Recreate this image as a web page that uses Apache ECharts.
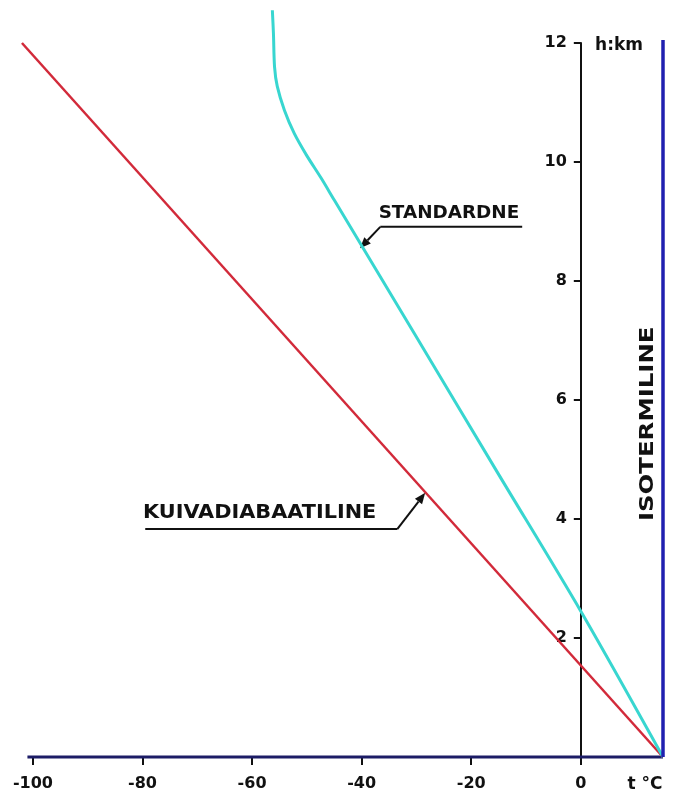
<!DOCTYPE html>
<html>
<head>
<meta charset="utf-8">
<script src="https://cdn.jsdelivr.net/npm/echarts@6/dist/echarts.min.js"></script>
<style>
html,body{margin:0;padding:0;background:#fff;}
#chart{width:684px;height:800px;}
</style>
</head>
<body>
<div id="chart"></div>
<script>
// ---- data ----
const temperatureTicks = [-100, -80, -60, -40, -20, 0];   // t, °C
const heightTicks = [2, 4, 6, 8, 10, 12];                 // h, km

// temperature axis baseline (drawn in navy in the original)
const baselineT = [-101, 15];
const baselineH = [0, 0];

// dry adiabatic line (kuivadiabaatiline)
const dryAdiabatT = [15, -102];
const dryAdiabatH = [0, 12];

// standard atmosphere (standardne)
const standardT = [15, 0, -15, -30, -45.0, -47.4, -50.1, -52.3, -54.1, -55.4, -55.9, -56.1, -56.3];
const standardH = [0, 2.45, 4.75, 7.06, 9.36, 9.73, 10.12, 10.48, 10.87, 11.27, 11.6, 12.16, 12.55];

// isotherm (isotermiline)
const isothermT = [15, 15];
const isothermH = [0, 12.05];

const labelTexts = {
  standard: 'STANDARDNE',
  dry: 'KUIVADIABAATILINE',
  iso: 'ISOTERMILINE',
  xName: 't °C',
  yName: 'h:km'
};

const zip = (a, b) => a.map((v, i) => [v, b[i]]);

const chart = echarts.init(document.getElementById('chart'), null, {renderer: 'canvas'});
const FONT = 'DejaVu Sans';
const GRID_LEFT = 11, GRID_RIGHT = 21;
const X_MIN = -104, X_MAX = 15;

chart.setOption({
  backgroundColor: '#ffffff',
  animation: false,
  grid: {left: GRID_LEFT, right: GRID_RIGHT, top: 43, bottom: 43,
         containLabel: false, outerBoundsMode: 'none'},
  xAxis: {
    type: 'value', min: X_MIN, max: X_MAX,
    splitLine: {show: false},
    axisLine: {show: false, onZero: false},
    axisTick: {show: true, customValues: temperatureTicks, length: 8, inside: false,
               lineStyle: {color: '#111', width: 2}},
    axisLabel: {customValues: temperatureTicks, margin: 19, color: '#111',
                fontFamily: FONT, fontWeight: 'bold', fontSize: 16,
                formatter: v => String(v)}
  },
  yAxis: {
    type: 'value', min: 0, max: 12,
    position: 'left',
    offset: -((684 - GRID_LEFT - GRID_RIGHT) * (0 - X_MIN) / (X_MAX - X_MIN)),
    splitLine: {show: false},
    axisLine: {onZero: false, lineStyle: {color: '#111', width: 2}},
    axisTick: {show: true, customValues: heightTicks, length: 7,
               lineStyle: {color: '#111', width: 2}},
    axisLabel: {customValues: heightTicks, margin: 14, color: '#111',
                fontFamily: FONT, fontWeight: 'bold', fontSize: 16}
  },
  series: [
    {type: 'line', name: 'baseline', data: zip(baselineT, baselineH), clip: false,
     symbol: 'none', lineStyle: {color: '#1c1c66', width: 3}, z: 2},
    {type: 'line', name: 'dry', data: zip(dryAdiabatT, dryAdiabatH), clip: false,
     symbol: 'none', lineStyle: {color: '#d22a3a', width: 2.5}, z: 3},
    {type: 'line', name: 'standard', data: zip(standardT, standardH), clip: false,
     symbol: 'none', smooth: 0.3, lineStyle: {color: '#38d6d0', width: 3}, z: 3},
    {type: 'line', name: 'iso', data: zip(isothermT, isothermH), clip: false,
     symbol: 'none', lineStyle: {color: '#2020b0', width: 3.5}, z: 4}
  ]
});

const P = (v, h) => chart.convertToPixel({gridIndex: 0}, [v, h]);

function arrow(from, to, color) {
  const dx = to[0] - from[0], dy = to[1] - from[1];
  const len = Math.hypot(dx, dy), ux = dx / len, uy = dy / len;
  const hl = 11, hw = 4.5;
  const bx = to[0] - ux * hl, by = to[1] - uy * hl;
  return [
    {type: 'line', shape: {x1: from[0], y1: from[1], x2: bx, y2: by},
     style: {stroke: color, lineWidth: 2}},
    {type: 'polygon', shape: {points: [to, [bx - uy * hw, by + ux * hw], [bx + uy * hw, by - ux * hw]]},
     style: {fill: color}}
  ];
}

const sTxt = P(-36.9, 9.13);
const sU1 = P(-36.6, 8.91), sU2 = P(-10.7, 8.91), sTip = P(-40.3, 8.55);
const dTxt = P(-79.9, 4.10);
const dU1 = P(-79.5, 3.83), dU2 = P(-33.5, 3.83), dTip = P(-28.4, 4.44);
const isoC = P(12.3, 5.6);
const xName = P(11.7, 0);
const yName = P(2.6, 11.95);

const txt = (pos, text, size, extra) => Object.assign({
  type: 'text', x: pos[0], y: pos[1],
  style: {text: text, fill: '#111', font: 'bold ' + size + 'px "' + FONT + '"',
          textAlign: 'left', textVerticalAlign: 'middle'}
}, extra || {});

chart.setOption({
  graphic: [
    txt(sTxt, labelTexts.standard, 18, {scaleX: 1.02}),
    {type: 'line', shape: {x1: sU1[0], y1: sU1[1], x2: sU2[0], y2: sU2[1]}, style: {stroke: '#111', lineWidth: 2}},
    ...arrow(sU1, sTip, '#111'),
    txt(dTxt, labelTexts.dry, 20, {scaleX: 1.04}),
    {type: 'line', shape: {x1: dU1[0], y1: dU1[1], x2: dU2[0], y2: dU2[1]}, style: {stroke: '#111', lineWidth: 2}},
    ...arrow(dU2, dTip, '#111'),
    {type: 'text', x: isoC[0], y: isoC[1], rotation: Math.PI / 2, scaleX: 1.22,
     style: {text: labelTexts.iso, fill: '#111', font: 'bold 20px "' + FONT + '"',
             textAlign: 'center', textVerticalAlign: 'middle'}},
    {type: 'text', x: xName[0], y: xName[1] + 28,
     style: {text: labelTexts.xName, fill: '#111', font: 'bold 17px "' + FONT + '"',
             textAlign: 'center', textVerticalAlign: 'middle'}},
    txt(yName, labelTexts.yName, 17)
  ]
});
</script>
</body>
</html>
